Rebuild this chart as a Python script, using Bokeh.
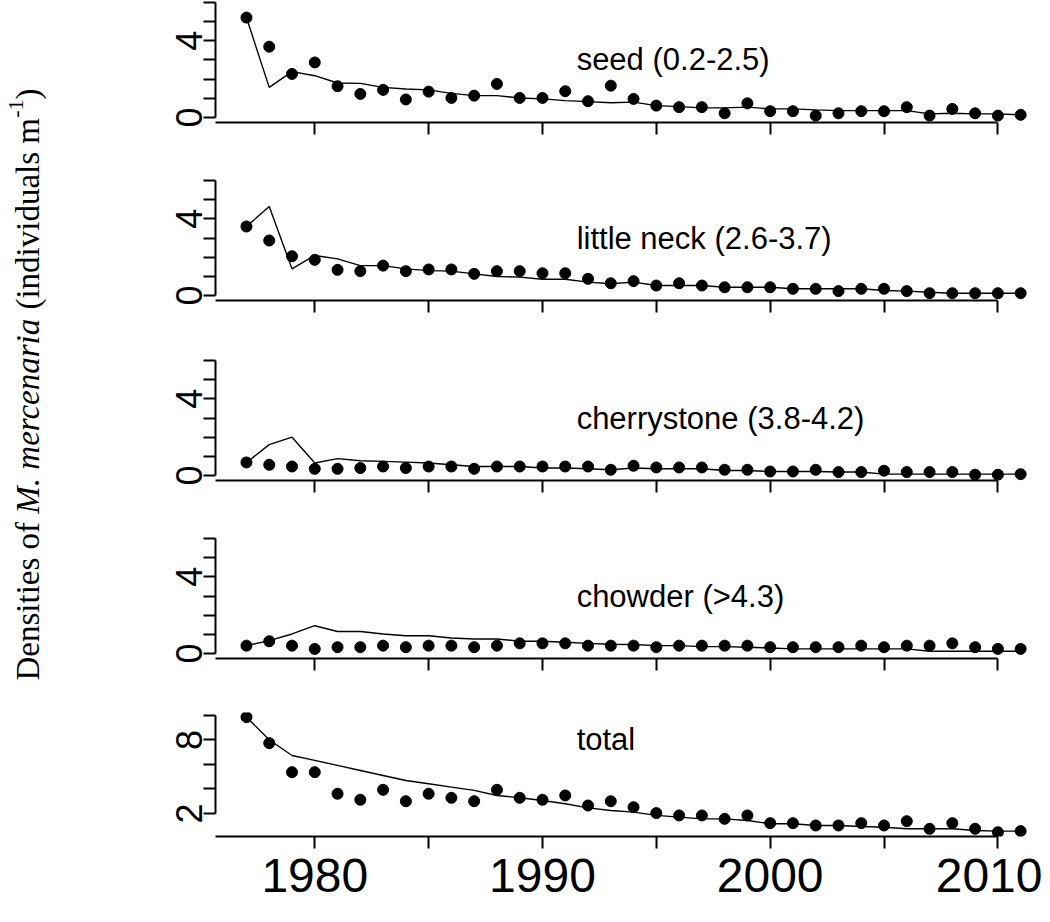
import math
from bokeh.plotting import figure
from bokeh.layouts import row, column
from bokeh.models import Range1d, FixedTicker
from bokeh.core.properties import value
from bokeh.embed import file_html
from bokeh.resources import INLINE

# ---------------- data ----------------
years = list(range(1977, 2012))

seed_obs = [5.21, 3.69, 2.27, 2.87, 1.63, 1.23, 1.44, 0.94, 1.35, 1.02, 1.14, 1.75, 1.02, 1.02, 1.37, 0.85, 1.66,
            0.97, 0.62, 0.54, 0.54, 0.22, 0.74, 0.33, 0.33, 0.10, 0.22, 0.33, 0.33, 0.54, 0.10, 0.45, 0.22, 0.10, 0.14]
seed_fit = [5.21, 1.57, 2.39, 2.18, 1.80, 1.78, 1.57, 1.49, 1.44, 1.26, 1.14, 1.14, 1.02, 0.97, 0.88, 0.83, 0.77,
            0.80, 0.62, 0.57, 0.50, 0.50, 0.54, 0.45, 0.45, 0.40, 0.36, 0.36, 0.36, 0.36, 0.19, 0.22, 0.19, 0.19, 0.14]

neck_obs = [3.60, 2.87, 2.05, 1.86, 1.34, 1.27, 1.56, 1.27, 1.36, 1.36, 1.13, 1.27, 1.27, 1.16, 1.16, 0.87, 0.64,
            0.75, 0.52, 0.64, 0.52, 0.43, 0.43, 0.43, 0.35, 0.35, 0.23, 0.35, 0.35, 0.23, 0.12, 0.12, 0.12, 0.12, 0.12]
neck_fit = [3.60, 4.64, 1.39, 2.09, 1.91, 1.56, 1.56, 1.39, 1.30, 1.27, 1.13, 0.99, 0.96, 0.85, 0.85, 0.70, 0.61,
            0.70, 0.52, 0.52, 0.52, 0.43, 0.43, 0.43, 0.35, 0.35, 0.35, 0.35, 0.26, 0.23, 0.17, 0.12, 0.12, 0.12, 0.12]

cherry_obs = [0.68, 0.56, 0.47, 0.35, 0.35, 0.39, 0.47, 0.39, 0.47, 0.47, 0.35, 0.47, 0.47, 0.47, 0.47, 0.47, 0.30,
              0.51, 0.42, 0.42, 0.42, 0.30, 0.30, 0.21, 0.21, 0.30, 0.18, 0.18, 0.25, 0.18, 0.18, 0.18, 0.04, 0.04, 0.07]
cherry_fit = [0.68, 1.61, 2.00, 0.65, 0.88, 0.77, 0.74, 0.70, 0.65, 0.56, 0.47, 0.47, 0.47, 0.39, 0.39, 0.35, 0.30,
              0.39, 0.35, 0.35, 0.35, 0.26, 0.26, 0.21, 0.21, 0.21, 0.18, 0.18, 0.07, 0.07, 0.07, 0.07, 0.07, 0.07, 0.07]

chowder_obs = [0.41, 0.64, 0.41, 0.24, 0.33, 0.33, 0.41, 0.33, 0.41, 0.41, 0.33, 0.41, 0.53, 0.53, 0.53, 0.41, 0.41,
               0.41, 0.33, 0.41, 0.41, 0.41, 0.41, 0.33, 0.33, 0.33, 0.33, 0.41, 0.33, 0.41, 0.41, 0.53, 0.33, 0.24, 0.24]
chowder_fit = [0.41, 0.67, 1.02, 1.45, 1.15, 1.15, 1.02, 0.93, 0.93, 0.81, 0.76, 0.76, 0.64, 0.64, 0.59, 0.53, 0.48,
               0.47, 0.41, 0.41, 0.36, 0.36, 0.33, 0.29, 0.24, 0.24, 0.24, 0.24, 0.24, 0.24, 0.12, 0.12, 0.12, 0.12, 0.12]

total_obs = [9.86, 7.74, 5.37, 5.37, 3.61, 3.12, 3.93, 3.00, 3.61, 3.28, 3.00, 3.93, 3.28, 3.12, 3.47, 2.65, 3.00,
             2.51, 2.03, 1.84, 1.84, 1.56, 1.84, 1.21, 1.21, 1.02, 1.02, 1.21, 1.02, 1.37, 0.75, 1.21, 0.75, 0.47, 0.56]
total_fit = [9.86, 8.02, 6.73, 6.33, 5.92, 5.51, 5.10, 4.69, 4.42, 4.15, 3.88, 3.47, 3.28, 3.06, 2.79, 2.46, 2.24,
             2.11, 1.84, 1.70, 1.56, 1.56, 1.43, 1.16, 1.16, 1.02, 1.02, 0.94, 0.88, 0.75, 0.75, 0.75, 0.61, 0.56, 0.56]

panel_labels = ["seed (0.2-2.5)", "little neck (2.6-3.7)", "cherrystone (3.8-4.2)", "chowder (>4.3)", "total"]
label_x = 1991.5
label_y = [3, 3, 3, 3, 8]

y_major = [[0, 4], [0, 4], [0, 4], [0, 4], [2, 8]]
y_minor = [[1, 2, 3, 5, 6], [1, 2, 3, 5, 6], [1, 2, 3, 5, 6], [1, 2, 3, 5, 6], [4, 6, 10]]
y_bounds = [(0, 6), (0, 6), (0, 6), (0, 6), (2, 10)]
x_major = [1980, 1990, 2000, 2010]
x_minor = [1985, 1995, 2005]
x_all = [1980, 1985, 1990, 1995, 2000, 2005, 2010]

observed = [seed_obs, neck_obs, cherry_obs, chowder_obs, total_obs]
fitted = [seed_fit, neck_fit, cherry_fit, chowder_fit, total_fit]

# ---------------- layout geometry ----------------
X_START = 1975.64
FRAME_W = 827
X_END = X_START + FRAME_W / 22.77
TITLE_W = 52
LEFT = 215 - TITLE_W
PANEL_W = LEFT + FRAME_W
heights = [150, 178, 178, 178, 230]
tops = [0, 25, 27, 27, 28]
bottoms = [28, 28, 26, 26, 78]
y_ranges = [(-0.26, 6.10), (-0.26, 6.26), (-0.26, 6.26), (-0.26, 6.26), (0.12, 10.24)]

AX_FONT = "Liberation Sans"
panels = []
for i in range(5):
    p = figure(width=PANEL_W, height=heights[i], output_backend="svg", toolbar_location=None,
               x_range=Range1d(X_START, X_END), y_range=Range1d(*y_ranges[i]),
               min_border_left=LEFT, min_border_right=0, min_border_top=tops[i],
               min_border_bottom=bottoms[i])
    p.outline_line_color = None
    p.grid.visible = False
    p.background_fill_color = "white"
    p.border_fill_color = "white"

    p.line(years, fitted[i], line_color="black", line_width=1.4)
    p.scatter(years, observed[i], size=11, fill_color="black", line_color="black")
    p.text(x=[label_x], y=[label_y[i]], text=[panel_labels[i]], text_font=value(AX_FONT),
           text_font_size="31px", text_align="left", text_baseline="middle", text_color="black")

    xa = p.xaxis[0]
    if i < 4:
        xa.ticker = FixedTicker(ticks=[], minor_ticks=x_all)
    else:
        xa.ticker = FixedTicker(ticks=x_major, minor_ticks=x_minor)
        xa.major_label_text_font = AX_FONT
        xa.major_label_text_font_size = "48px"
        xa.major_label_text_color = "black"
        xa.major_label_standoff = 10
    xa.bounds = (X_START, 2010)
    xa.axis_line_width = 2
    xa.major_tick_line_width = 2
    xa.minor_tick_line_width = 2
    xa.major_tick_in = 0
    xa.major_tick_out = 12
    xa.minor_tick_in = 0
    xa.minor_tick_out = 12
    xa.minor_tick_line_color = "black"

    ya = p.yaxis[0]
    ya.ticker = FixedTicker(ticks=y_major[i], minor_ticks=y_minor[i])
    ya.bounds = y_bounds[i]
    ya.axis_line_width = 2
    ya.major_tick_line_width = 2
    ya.minor_tick_line_width = 2
    ya.major_tick_in = 0
    ya.major_tick_out = 12
    ya.minor_tick_in = 0
    ya.minor_tick_out = 12
    ya.minor_tick_line_color = "black"
    ya.major_label_orientation = "parallel"
    ya.major_label_text_font = AX_FONT
    ya.major_label_text_font_size = "36px"
    ya.major_label_text_color = "black"
    ya.major_label_standoff = 1
    panels.append(p)

# ---------------- y-axis title (rotated, mixed styles) ----------------
TOTAL_H = sum(heights)
tfig = figure(width=TITLE_W, height=TOTAL_H, output_backend="svg", toolbar_location=None,
              x_range=Range1d(0, TITLE_W), y_range=Range1d(0, TOTAL_H), min_border=0)
tfig.axis.visible = False
tfig.grid.visible = False
tfig.outline_line_color = None

reg_w = {'D': 722, 'e': 444, 'n': 500, 's': 389, 'i': 278, 't': 278, ' ': 250, 'o': 500, 'f': 333,
         '(': 333, 'd': 500, 'v': 500, 'u': 500, 'a': 444, 'l': 278, 'm': 778, ')': 333, '-': 333, '1': 500}
ita_w = {'M': 833, '.': 250, ' ': 250, 'm': 722, 'e': 444, 'r': 389, 'c': 444, 'n': 500, 'a': 500, 'i': 278}

FS = 33
SUP = 22
# (text, style, size, rise, extra advance after the piece)
segments = [("Densities of ", "normal", FS, 0, 0),
            ("M. mercenaria", "italic", FS, 0, 8),
            (" (individuals m", "normal", FS, 0, -8),
            ("-1", "normal", SUP, 12, 0),
            (")", "normal", FS, 0, 0)]
center_x = 27
pos = TOTAL_H - 680  # title starts at page y 680
for txt, style, size, rise, extra in segments:
    table = ita_w if style == "italic" else reg_w
    w = sum(table.get(ch, 500) for ch in txt) / 1000.0 * size
    tfig.text(x=[center_x - rise], y=[pos], text=[txt], angle=math.pi / 2,
              text_font=value("Liberation Serif"), text_font_style=style,
              text_font_size=f"{size}px", text_align="left", text_baseline="middle",
              text_color="black")
    pos += w + extra

layout = row(tfig, column(*panels, spacing=0), spacing=0)
open("out.html", "w").write(file_html(layout, INLINE))
